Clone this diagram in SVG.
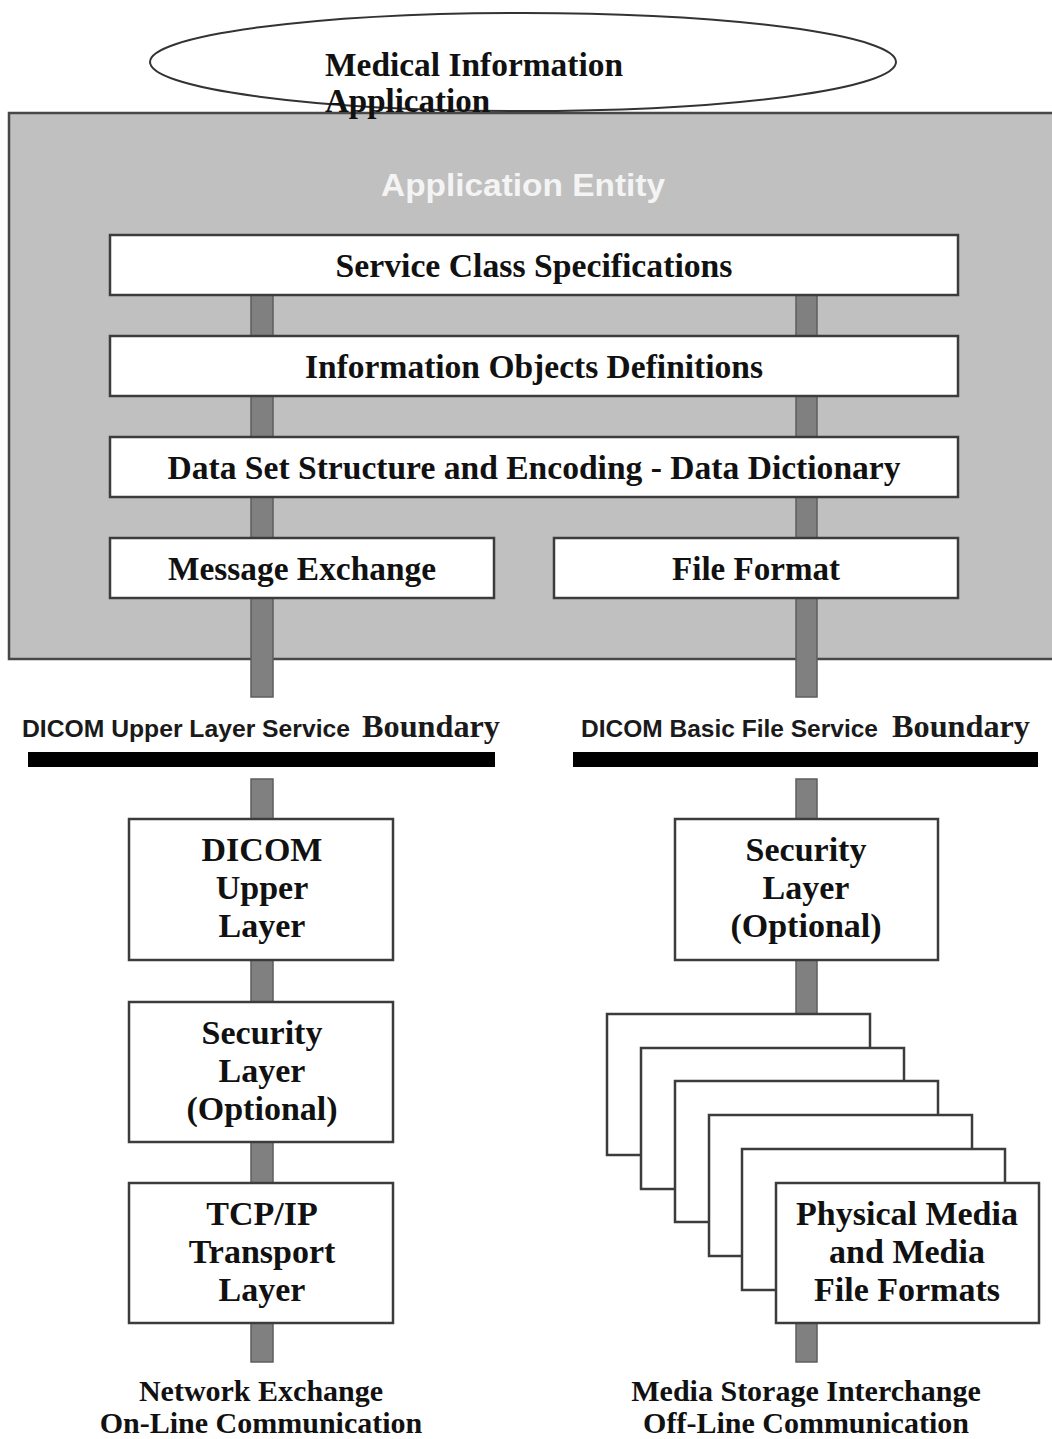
<svg xmlns="http://www.w3.org/2000/svg" width="1052" height="1439" viewBox="0 0 1052 1439">
<style>
.box{fill:#ffffff;stroke:#3c3c3c;stroke-width:2.5}
.bar{fill:#808080;stroke:#5e5e5e;stroke-width:1.5}
.t{font-family:"Liberation Serif","Times New Roman",serif;font-weight:bold;font-size:34px;fill:#111;text-anchor:middle}
.tl{font-family:"Liberation Serif","Times New Roman",serif;font-weight:bold;font-size:33px;fill:#111}
.s{font-family:"Liberation Sans",Arial,sans-serif;font-weight:bold;font-size:24px;fill:#1a1a1a}
.b{font-family:"Liberation Serif","Times New Roman",serif;font-weight:bold;font-size:31px;fill:#1a1a1a}
.bot{font-family:"Liberation Serif","Times New Roman",serif;font-weight:bold;font-size:30px;fill:#111;text-anchor:middle}
</style>
<rect width="1052" height="1439" fill="#ffffff"/>

<g id="application-entity">
<rect x="9" y="113" width="1060" height="546" fill="#c0c0c0" stroke="#484848" stroke-width="2.5"/>
<text x="523" y="196" font-family="Liberation Sans,Arial,sans-serif" font-weight="bold" font-size="32" fill="#f4f4f4" text-anchor="middle" textLength="284" lengthAdjust="spacingAndGlyphs">Application Entity</text>
</g>

<g id="medical-information-application">
<ellipse cx="523" cy="62" rx="373" ry="49" fill="none" stroke="#333" stroke-width="2"/>
<text class="tl" x="325" y="76" textLength="298" lengthAdjust="spacingAndGlyphs">Medical Information</text>
<text class="tl" x="325" y="112" textLength="165" lengthAdjust="spacingAndGlyphs">Application</text>
</g>

<g id="connectors">
<rect class="bar" x="251" y="295" width="22" height="402"/>
<rect class="bar" x="796" y="295" width="21" height="402"/>
<rect class="bar" x="251" y="779" width="22" height="583"/>
<rect class="bar" x="796" y="779" width="21" height="583"/>
</g>

<g id="service-class-specifications">
<rect class="box" x="110" y="235" width="848" height="60"/>
<text class="t" x="534" y="277" textLength="397" lengthAdjust="spacingAndGlyphs">Service Class Specifications</text>
</g>
<g id="information-objects-definitions">
<rect class="box" x="110" y="336" width="848" height="60"/>
<text class="t" x="534" y="378" textLength="458" lengthAdjust="spacingAndGlyphs">Information Objects Definitions</text>
</g>
<g id="data-set-structure">
<rect class="box" x="110" y="437" width="848" height="60"/>
<text class="t" x="534" y="479" textLength="733" lengthAdjust="spacingAndGlyphs">Data Set Structure and Encoding - Data Dictionary</text>
</g>
<g id="message-exchange">
<rect class="box" x="110" y="538" width="384" height="60"/>
<text class="t" x="302" y="580" textLength="268" lengthAdjust="spacingAndGlyphs">Message Exchange</text>
</g>
<g id="file-format">
<rect class="box" x="554" y="538" width="404" height="60"/>
<text class="t" x="756" y="580" textLength="168" lengthAdjust="spacingAndGlyphs">File Format</text>
</g>

<g id="upper-layer-boundary">
<text class="s" x="22" y="737" textLength="328" lengthAdjust="spacingAndGlyphs">DICOM Upper Layer Service</text>
<text class="b" x="362" y="737" textLength="138" lengthAdjust="spacingAndGlyphs">Boundary</text>
<rect x="28" y="752" width="467" height="15" fill="#000"/>
</g>
<g id="basic-file-boundary">
<text class="s" x="581" y="737" textLength="297" lengthAdjust="spacingAndGlyphs">DICOM Basic File Service</text>
<text class="b" x="892" y="737" textLength="138" lengthAdjust="spacingAndGlyphs">Boundary</text>
<rect x="573" y="752" width="465" height="15" fill="#000"/>
</g>

<g id="dicom-upper-layer">
<rect class="box" x="129" y="819" width="264" height="141"/>
<text class="t" x="262" y="861">DICOM</text>
<text class="t" x="262" y="899">Upper</text>
<text class="t" x="262" y="937">Layer</text>
</g>
<g id="security-layer-left">
<rect class="box" x="129" y="1002" width="264" height="140"/>
<text class="t" x="262" y="1044">Security</text>
<text class="t" x="262" y="1082">Layer</text>
<text class="t" x="262" y="1120">(Optional)</text>
</g>
<g id="tcp-ip-transport-layer">
<rect class="box" x="129" y="1183" width="264" height="140"/>
<text class="t" x="262" y="1225">TCP/IP</text>
<text class="t" x="262" y="1263">Transport</text>
<text class="t" x="262" y="1301">Layer</text>
</g>
<g id="security-layer-right">
<rect class="box" x="675" y="819" width="263" height="141"/>
<text class="t" x="806" y="861">Security</text>
<text class="t" x="806" y="899">Layer</text>
<text class="t" x="806" y="937">(Optional)</text>
</g>

<g id="physical-media">
<rect class="box" x="607" y="1014" width="263" height="141"/>
<rect class="box" x="641" y="1048" width="263" height="141"/>
<rect class="box" x="675" y="1081" width="263" height="141"/>
<rect class="box" x="709" y="1115" width="263" height="141"/>
<rect class="box" x="742" y="1149" width="263" height="141"/>
<rect class="box" x="776" y="1183" width="263" height="140"/>
<text class="t" x="907" y="1225">Physical Media</text>
<text class="t" x="907" y="1263">and Media</text>
<text class="t" x="907" y="1301">File Formats</text>
</g>

<g id="network-exchange">
<text class="bot" x="261" y="1401">Network Exchange</text>
<text class="bot" x="261" y="1433">On-Line Communication</text>
</g>
<g id="media-storage-interchange">
<text class="bot" x="806" y="1401">Media Storage Interchange</text>
<text class="bot" x="806" y="1433">Off-Line Communication</text>
</g>
</svg>
